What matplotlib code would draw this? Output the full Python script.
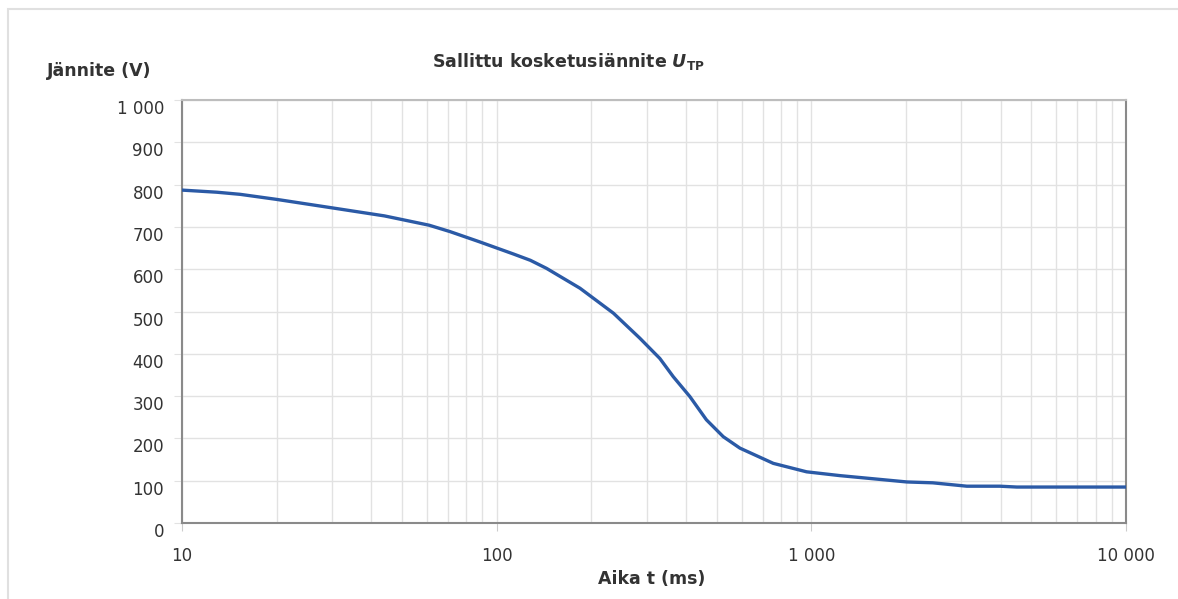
import matplotlib.pyplot as plt
from matplotlib.patches import Rectangle
from matplotlib.ticker import FixedLocator, NullFormatter

plt.rcParams['font.family'] = ['DejaVu Sans']
plt.rcParams['mathtext.fontset'] = 'dejavusans'

# curve
aika_ms = [10, 12.9, 15.3, 20, 30, 44, 61, 71, 88, 113, 128, 144, 184, 235, 285,
           330, 364, 411, 464, 525, 593, 757, 966, 1233, 2014, 2432, 3120, 3972, 4498, 10000]
jannite_v = [787, 782, 777, 765, 745, 726, 704, 689, 665, 636, 621, 602, 555, 496, 437,
             389, 346, 299, 244, 204, 177, 141, 121, 112, 97, 95, 87, 87, 85, 85]

x_major = [10, 100, 1000, 10000]
x_labels = ['10', '100', '1 000', '10 000']
y_ticks = list(range(0, 1001, 100))
y_labels = ['0', '100', '200', '300', '400', '500', '600', '700', '800', '900', '1 000']

fig = plt.figure(figsize=(11.78, 5.99), dpi=100)
W, H = 1178, 599

# light outer frame
fig.patches.append(Rectangle((8 / W, -0.01), 1.1, 1 - 9 / H + 0.01, transform=fig.transFigure,
                             fill=False, edgecolor='#e0e0e0', linewidth=1.5))

ax = fig.add_axes([182 / W, 1 - 523 / H, (1126 - 182) / W, (523 - 100) / H])
ax.plot(aika_ms, jannite_v, color='#2b5aa6', linewidth=2.4, solid_joinstyle='round', zorder=3)

ax.set_xscale('log')
ax.set_xlim(10, 10000)
ax.set_ylim(0, 1000)

minor = [m * d for d in (10, 100, 1000) for m in range(2, 10)]
ax.xaxis.set_major_locator(FixedLocator(x_major))
ax.xaxis.set_minor_locator(FixedLocator(minor))
ax.xaxis.set_minor_formatter(NullFormatter())
ax.set_xticks(x_major)
ax.set_xticklabels(x_labels)
ax.set_yticks(y_ticks)
ax.set_yticklabels(y_labels)

ax.grid(True, which='both', axis='x', color='#e2e2e2', linewidth=1)
ax.grid(True, which='major', axis='y', color='#e2e2e2', linewidth=1)
ax.set_axisbelow(True)

ax.tick_params(axis='y', length=6, color='#e2e2e2', pad=7, labelsize=12, labelcolor='#333333')
ax.tick_params(axis='x', which='major', length=6, color='#cccccc', pad=11, labelsize=12,
               labelcolor='#333333')
ax.tick_params(axis='x', which='minor', length=0)
for lbl in ax.get_yticklabels():
    lbl.set_verticalalignment('top')

for side in ('left', 'bottom', 'right'):
    ax.spines[side].set_color('#8a8a8a')
    ax.spines[side].set_linewidth(1.5)
ax.spines['top'].set_color('#bdbdbd')
ax.spines['top'].set_linewidth(1.5)

fig.text(432 / W, 1 - 62 / H,
         'Sallittu kosketusiännite $\\boldsymbol{U}_{\\mathregular{TP}}$',
         fontsize=12.5, fontweight='bold', color='#333333', va='center', ha='left')
fig.text(47 / W, 1 - 71 / H, 'Jännite (V)', fontsize=12.5, fontweight='bold',
         color='#333333', va='center', ha='left')
fig.text(598 / W, 1 - 579 / H, 'Aika t (ms)', fontsize=12.5, fontweight='bold',
         color='#333333', va='center', ha='left')

fig.savefig('out.png', dpi=100, facecolor='white')
